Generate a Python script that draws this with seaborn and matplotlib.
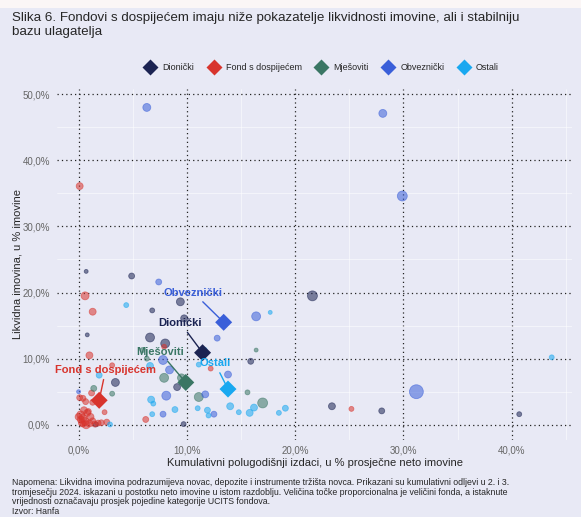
import pandas as pd
import seaborn as sns
import matplotlib.pyplot as plt
from matplotlib.ticker import FuncFormatter, MultipleLocator
from matplotlib.patches import Rectangle

# podaci po kategorijama: izdaci (x, %), likvidna imovina (y, %), relativna velicina fonda
kategorije = ['Dionički', 'Fond s dospijećem', 'Mješoviti', 'Obveznički', 'Ostali']
boje = ['#1B2352', '#D8342D', '#3A7664', '#3A5FD9', '#19A8F0']

dionicki_x = [0.7, 4.9, 9.4, 6.8, 9.75, 0.8, 6.6, 8.0, 15.9, 3.4, 9.1, 9.7, 1.6, 21.6, 23.4, 28.0, 40.7]
dionicki_y = [23.2, 22.5, 18.6, 17.3, 16.1, 13.6, 13.2, 12.3, 9.6, 6.4, 5.7, 0.1, 0.05, 19.5, 2.8, 2.1, 1.6]
dionicki_v = [16, 36, 64, 25, 49, 16, 81, 81, 36, 64, 49, 25, 25, 100, 49, 36, 25]

dosp_x = [0.1, 0.6, 1.3, 1.0, 7.9, 12.2, 6.2, 2.4, 25.2, 3.1, 1.2, 0.1, 0.4, 0.65, 1.3,
          0.2, 0.4, 0.6, 0.8, 0.3, 1.0, 0.5, 1.1, 0.7, 0.2, 1.3, 0.9, 1.8, 2.1, 2.6, 0.0, 1.5, 0.4]
dosp_y = [36.1, 19.5, 17.1, 10.5, 11.8, 8.5, 0.8, 1.9, 2.4, 9.0, 4.8, 4.1, 4.0, 3.5, 3.4,
          1.5, 1.0, 0.5, 1.8, 0.3, 0.2, 2.2, 1.2, 0.0, 0.8, 0.6, 2.0, 0.25, 0.3, 0.4, 1.2, 0.1, 0.1]
dosp_v = [49, 64, 49, 49, 25, 25, 36, 25, 25, 25, 36, 36, 36, 36, 36,
          64, 64, 64, 49, 49, 49, 49, 49, 64, 49, 36, 36, 36, 36, 36, 49, 36, 36]

mjes_x = [16.4, 6.3, 7.9, 9.5, 1.4, 3.1, 11.1, 15.6, 17.0, 5.9]
mjes_y = [11.3, 10.0, 7.1, 7.1, 5.5, 4.7, 4.2, 4.9, 3.3, 11.3]
mjes_v = [16, 25, 81, 64, 36, 25, 81, 25, 100, 25]

obv_x = [6.3, 28.1, 29.9, 7.4, 16.4, 12.8, 7.8, 8.4, 13.8, 0.0, 8.1, 11.7, 12.5, 7.8, 31.2]
obv_y = [48.0, 47.1, 34.6, 21.6, 16.4, 13.1, 9.8, 8.3, 7.6, 5.0, 4.4, 4.6, 1.6, 1.6, 5.0]
obv_v = [64, 64, 100, 36, 81, 36, 81, 64, 49, 16, 81, 49, 36, 36, 196]

ost_x = [4.4, 17.7, 11.6, 11.1, 6.6, 1.9, 6.7, 6.9, 14.0, 16.2, 15.8, 14.8, 11.0, 11.9, 12.0,
         8.9, 6.8, 18.5, 19.1, 2.9, 43.7]
ost_y = [18.1, 17.0, 11.3, 9.1, 8.9, 7.5, 3.8, 3.2, 2.8, 2.6, 1.8, 1.9, 2.5, 2.2, 1.4,
         2.3, 1.6, 1.8, 2.5, 0.05, 10.2]
ost_v = [25, 16, 36, 25, 49, 36, 49, 25, 49, 49, 49, 25, 25, 36, 25,
         36, 25, 25, 36, 25, 25]

# prosjek kategorija
prosjek_x = [11.45, 1.9, 9.9, 13.4, 13.8]
prosjek_y = [10.9, 3.7, 6.4, 15.5, 5.4]
oznaka_x = [9.4, 2.5, 7.5, 10.6, 12.6]
oznaka_y = [15.4, 8.3, 11.0, 20.0, 9.3]

fondovi = pd.concat([
    pd.DataFrame({'kategorija': k, 'x': x, 'y': y, 'velicina': v})
    for k, x, y, v in zip(kategorije,
                          [dionicki_x, dosp_x, mjes_x, obv_x, ost_x],
                          [dionicki_y, dosp_y, mjes_y, obv_y, ost_y],
                          [dionicki_v, dosp_v, mjes_v, obv_v, ost_v])
])
prosjek = pd.DataFrame({'kategorija': kategorije, 'x': prosjek_x, 'y': prosjek_y})

pozadina = '#E8E9F5'
sns.set_theme(style='white')
plt.rcParams['font.family'] = ['Liberation Sans', 'DejaVu Sans']

fig = plt.figure(figsize=(5.81, 5.17), dpi=100, facecolor=pozadina)
fig.patches.append(Rectangle((0, 1 - 8 / 517), 1, 8 / 517, transform=fig.transFigure,
                             facecolor='#FBF6F6', edgecolor='none'))
ax = fig.add_axes([0.098, 0.149, 0.887, 0.679])
ax.set_facecolor(pozadina)
paleta = dict(zip(kategorije, boje))

sns.scatterplot(data=fondovi, x='x', y='y', hue='kategorija', size='velicina',
                sizes=(8, 100), size_norm=(16, 196), palette=paleta, alpha=0.55,
                edgecolor=None, linewidth=0.6, legend=False, ax=ax, zorder=3)
sns.scatterplot(data=prosjek, x='x', y='y', hue='kategorija', palette=paleta,
                marker='D', s=75, edgecolor='none', ax=ax, zorder=5)

for k, b, px, py, lx, ly in zip(kategorije, boje, prosjek_x, prosjek_y, oznaka_x, oznaka_y):
    ax.annotate(k, xy=(px, py), xytext=(lx, ly), color=b, fontsize=8, fontweight='bold',
                ha='center', va='center', zorder=6,
                arrowprops=dict(arrowstyle='-', color=b, lw=1, shrinkA=1, shrinkB=2))

ax.set_xlim(-2.0, 45.6)
ax.set_ylim(-2.3, 50.8)
ax.xaxis.set_major_locator(MultipleLocator(10))
ax.yaxis.set_major_locator(MultipleLocator(10))
ax.xaxis.set_minor_locator(MultipleLocator(5))
ax.yaxis.set_minor_locator(MultipleLocator(5))
fmt = FuncFormatter(lambda v, p: f'{v:.1f}%'.replace('.', ','))
ax.xaxis.set_major_formatter(fmt)
ax.yaxis.set_major_formatter(fmt)
ax.grid(which='major', color='#222222', linestyle=(0, (1, 2.5)), linewidth=0.9, zorder=1)
ax.grid(which='minor', color='white', linewidth=0.6, alpha=0.6, zorder=0)
ax.set_axisbelow(True)
sns.despine(ax=ax, left=True, bottom=True)
ax.tick_params(axis='both', which='both', length=0, labelsize=7, labelcolor='#666666')
ax.tick_params(axis='x', pad=4)
ax.tick_params(axis='y', pad=5)
ax.set_xlabel('Kumulativni polugodišnji izdaci, u % prosječne neto imovine', fontsize=8, labelpad=2)
ax.set_ylabel('Likvidna imovina, u % imovine', fontsize=8, labelpad=0)

sns.move_legend(ax, 'center', bbox_to_anchor=(0.551, 0.870), bbox_transform=fig.transFigure,
                ncol=5, title=None, frameon=False, fontsize=6.5, handletextpad=0.3,
                columnspacing=1.2, markerscale=0.9)

fig.text(0.021, 1 - 12 / 517, 'Slika 6. Fondovi s dospijećem imaju niže pokazatelje likvidnosti imovine, ali i stabilniju\n'
         'bazu ulagatelja', fontsize=9.6, va='top', ha='left', linespacing=1.2)
fig.text(0.021, 1 - 478 / 517,
         'Napomena: Likvidna imovina podrazumijeva novac, depozite i instrumente tržišta novca. Prikazani su kumulativni odljevi u 2. i 3.\n'
         'tromjesečju 2024. iskazani u postotku neto imovine u istom razdoblju. Veličina točke proporcionalna je veličini fonda, a istaknute\n'
         'vrijednosti označavaju prosjek pojedine kategorije UCITS fondova.\n'
         'Izvor: Hanfa', fontsize=6.35, va='top', ha='left', linespacing=1.1)

fig.savefig('out.png', dpi=100, facecolor=pozadina)
